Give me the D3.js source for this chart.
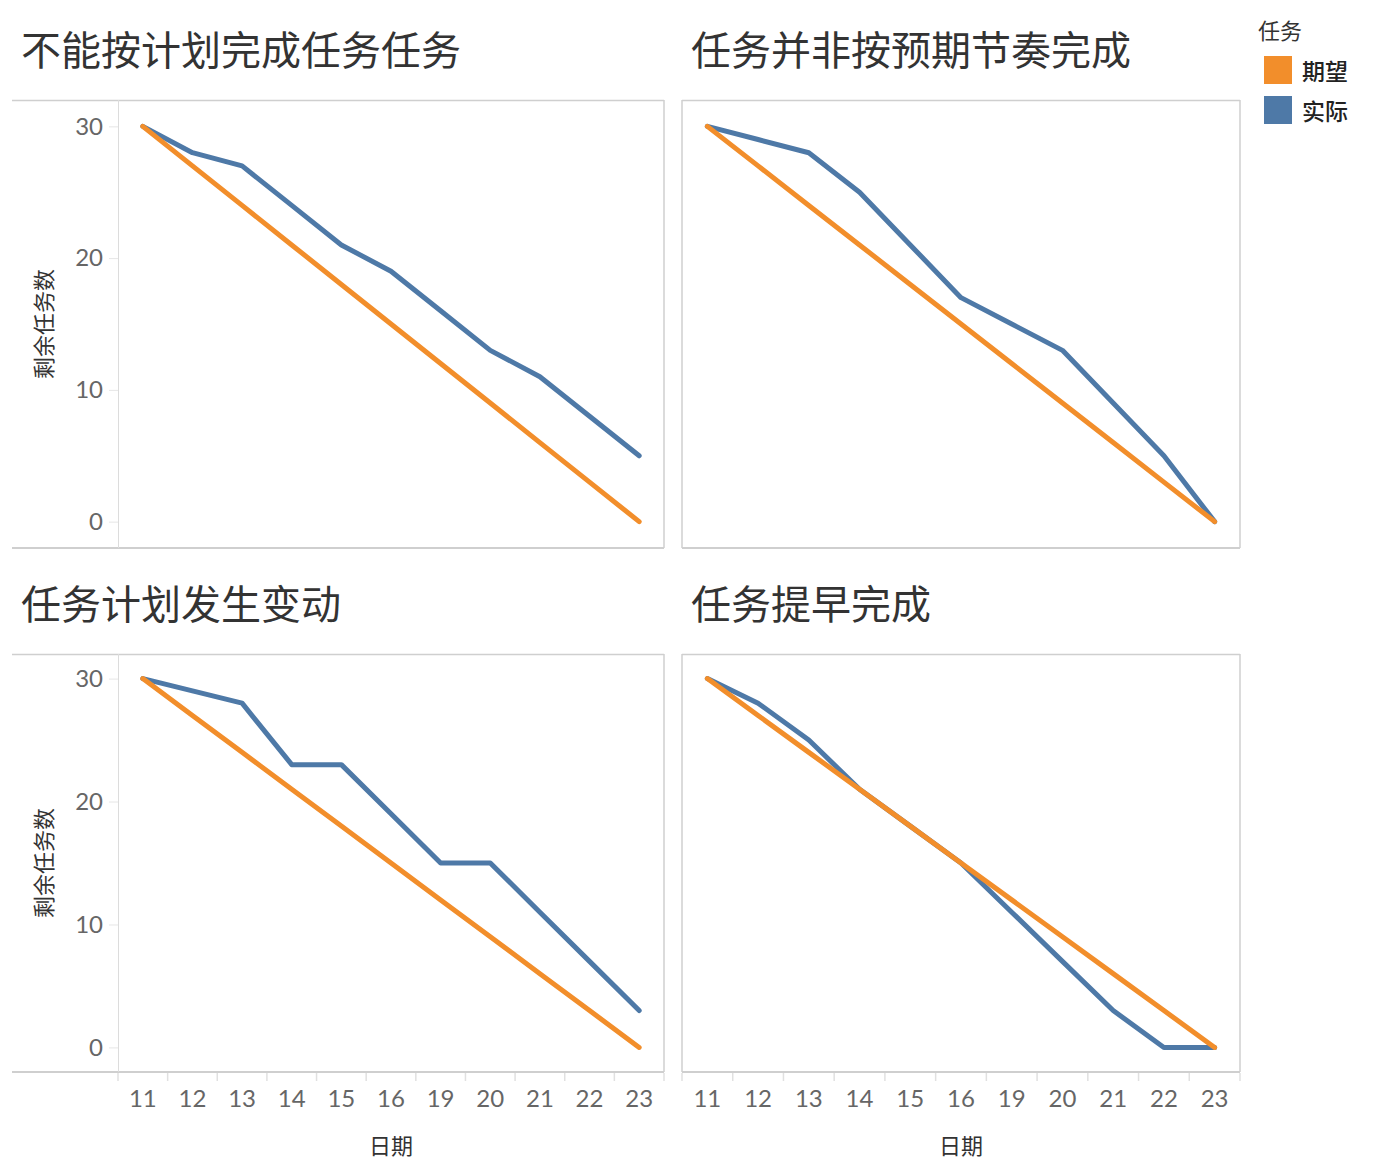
<!DOCTYPE html>
<html>
<head>
<meta charset="utf-8">
<script src="https://cdn.jsdelivr.net/npm/d3@7/dist/d3.min.js"></script>
<style>
  html, body { margin: 0; padding: 0; background: #fff; }
  svg { display: block; font-family: "Lato", "Noto Sans CJK SC", sans-serif; }
</style>
</head>
<body>
<svg id="chart" width="1380" height="1174"></svg>
<script>
const dates = ["11","12","13","14","15","16","19","20","21","22","23"];
const yTicks = [0, 10, 20, 30];
const seriesNames = ["期望", "实际"];
const seriesColors = ["#F28E2B", "#4E79A7"];
const titles = ["不能按计划完成任务任务", "任务并非按预期节奏完成", "任务计划发生变动", "任务提早完成"];
const expected = [30, 27, 24, 21, 18, 15, 12, 9, 6, 3, 0];
const actual1 = [30, 28, 27, 24, 21, 19, 16, 13, 11, 8, 5];
const actual2 = [30, 29, 28, 25, 21, 17, 15, 13, 9, 5, 0];
const actual3 = [30, 29, 28, 23, 23, 19, 15, 15, 11, 7, 3];
const actual4 = [30, 28, 25, 21, 18, 15, 11, 7, 3, 0, 0];
const actuals = [actual1, actual2, actual3, actual4];
const yLabel = "剩余任务数";
const xLabel = "日期";
const legendTitle = "任务";

const svg = d3.select("#chart");

const panels = [
  {frameL: 12, plotL: 118, plotR: 664, top: 100, bottom: 548, titleX: 22, titleY: 50, yAxis: true, xAxis: false, leftEdge: false},
  {frameL: 682, plotL: 682, plotR: 1240, top: 100, bottom: 548, titleX: 692, titleY: 50, yAxis: false, xAxis: false, leftEdge: true},
  {frameL: 12, plotL: 118, plotR: 664, top: 654, bottom: 1072, titleX: 22, titleY: 604, yAxis: true, xAxis: true, leftEdge: false},
  {frameL: 682, plotL: 682, plotR: 1240, top: 654, bottom: 1072, titleX: 692, titleY: 604, yAxis: false, xAxis: true, leftEdge: true}
];

panels.forEach((p, i) => {
  const g = svg.append("g");
  const x = d3.scaleBand().domain(dates).range([p.plotL, p.plotR]).padding(0);
  const y = d3.scaleLinear().domain([-2, 32]).range([p.bottom, p.top]);
  const cx = d => x(d) + x.bandwidth() / 2;

  // title
  g.append("text")
    .attr("x", p.titleX - 1).attr("y", p.titleY)
    .attr("dominant-baseline", "central")
    .attr("font-size", 40).attr("fill", "#333")
    .text(titles[i]);

  // frame
  g.append("line").attr("x1", p.frameL).attr("x2", p.plotR).attr("y1", p.top + 0.5).attr("y2", p.top + 0.5)
    .attr("stroke", "#cfcfcf").attr("stroke-width", 1.5);
  g.append("line").attr("x1", p.frameL).attr("x2", p.plotR).attr("y1", p.bottom).attr("y2", p.bottom)
    .attr("stroke", "#cfcfcf").attr("stroke-width", 2);
  g.append("line").attr("x1", p.plotR).attr("x2", p.plotR).attr("y1", p.top).attr("y2", p.bottom)
    .attr("stroke", "#cfcfcf").attr("stroke-width", 1.5);
  if (p.leftEdge) {
    g.append("line").attr("x1", p.plotL).attr("x2", p.plotL).attr("y1", p.top).attr("y2", p.bottom)
      .attr("stroke", "#cfcfcf").attr("stroke-width", 1.5);
  }

  if (p.yAxis) {
    g.append("line").attr("x1", p.plotL + 0.5).attr("x2", p.plotL + 0.5).attr("y1", p.top).attr("y2", p.bottom)
      .attr("stroke", "#dcdcdc").attr("stroke-width", 1);
    const ya = d3.axisLeft(y).tickValues(yTicks).tickSize(9).tickPadding(6).tickFormat(d3.format("d"));
    const yg = g.append("g").attr("transform", `translate(${p.plotL},0)`).call(ya);
    yg.select(".domain").remove();
    yg.selectAll(".tick line").attr("stroke", "#e6e6e6");
    yg.selectAll(".tick text").attr("font-size", 24).attr("fill", "#666")
      .attr("font-family", "Lato, 'Noto Sans CJK SC', sans-serif");
    g.append("text")
      .attr("transform", `translate(43,${(p.top + p.bottom) / 2}) rotate(-90)`)
      .attr("text-anchor", "middle").attr("dominant-baseline", "central")
      .attr("font-size", 22).attr("fill", "#333")
      .text(yLabel);
  }

  if (p.xAxis) {
    const bounds = dates.map(d => x(d)).concat([p.plotR]);
    g.selectAll("line.xt").data(bounds).enter().append("line")
      .attr("x1", d => d).attr("x2", d => d).attr("y1", p.bottom + 1).attr("y2", p.bottom + 9)
      .attr("stroke", "#e0e0e0").attr("stroke-width", 1.5);
    g.selectAll("text.xl").data(dates).enter().append("text")
      .attr("x", d => cx(d)).attr("y", p.bottom + 25)
      .attr("text-anchor", "middle").attr("dominant-baseline", "central")
      .attr("font-size", 24).attr("fill", "#666")
      .text(d => d);
    g.append("text")
      .attr("x", (p.plotL + p.plotR) / 2).attr("y", p.bottom + 73)
      .attr("text-anchor", "middle").attr("dominant-baseline", "central")
      .attr("font-size", 22).attr("fill", "#333")
      .text(xLabel);
  }

  const line = d3.line().x((d, j) => cx(dates[j])).y(d => y(d));
  [actuals[i], expected].forEach((vals, k) => {
    g.append("path").datum(vals)
      .attr("d", line)
      .attr("fill", "none")
      .attr("stroke", k === 0 ? seriesColors[1] : seriesColors[0])
      .attr("stroke-width", 5)
      .attr("stroke-linecap", "round")
      .attr("stroke-linejoin", "round");
  });
});

// legend
const lg = svg.append("g");
lg.append("text").attr("x", 1258).attr("y", 30).attr("dominant-baseline", "central")
  .attr("font-size", 22).attr("fill", "#333").text(legendTitle);
seriesNames.forEach((n, i) => {
  lg.append("rect").attr("x", 1264).attr("y", 56 + i * 40).attr("width", 28).attr("height", 28)
    .attr("fill", seriesColors[i]);
  lg.append("text").attr("x", 1302).attr("y", 71 + i * 40).attr("dominant-baseline", "central")
    .attr("font-size", 23).attr("font-weight", 500).attr("fill", "#222").text(n);
});
</script>
</body>
</html>
